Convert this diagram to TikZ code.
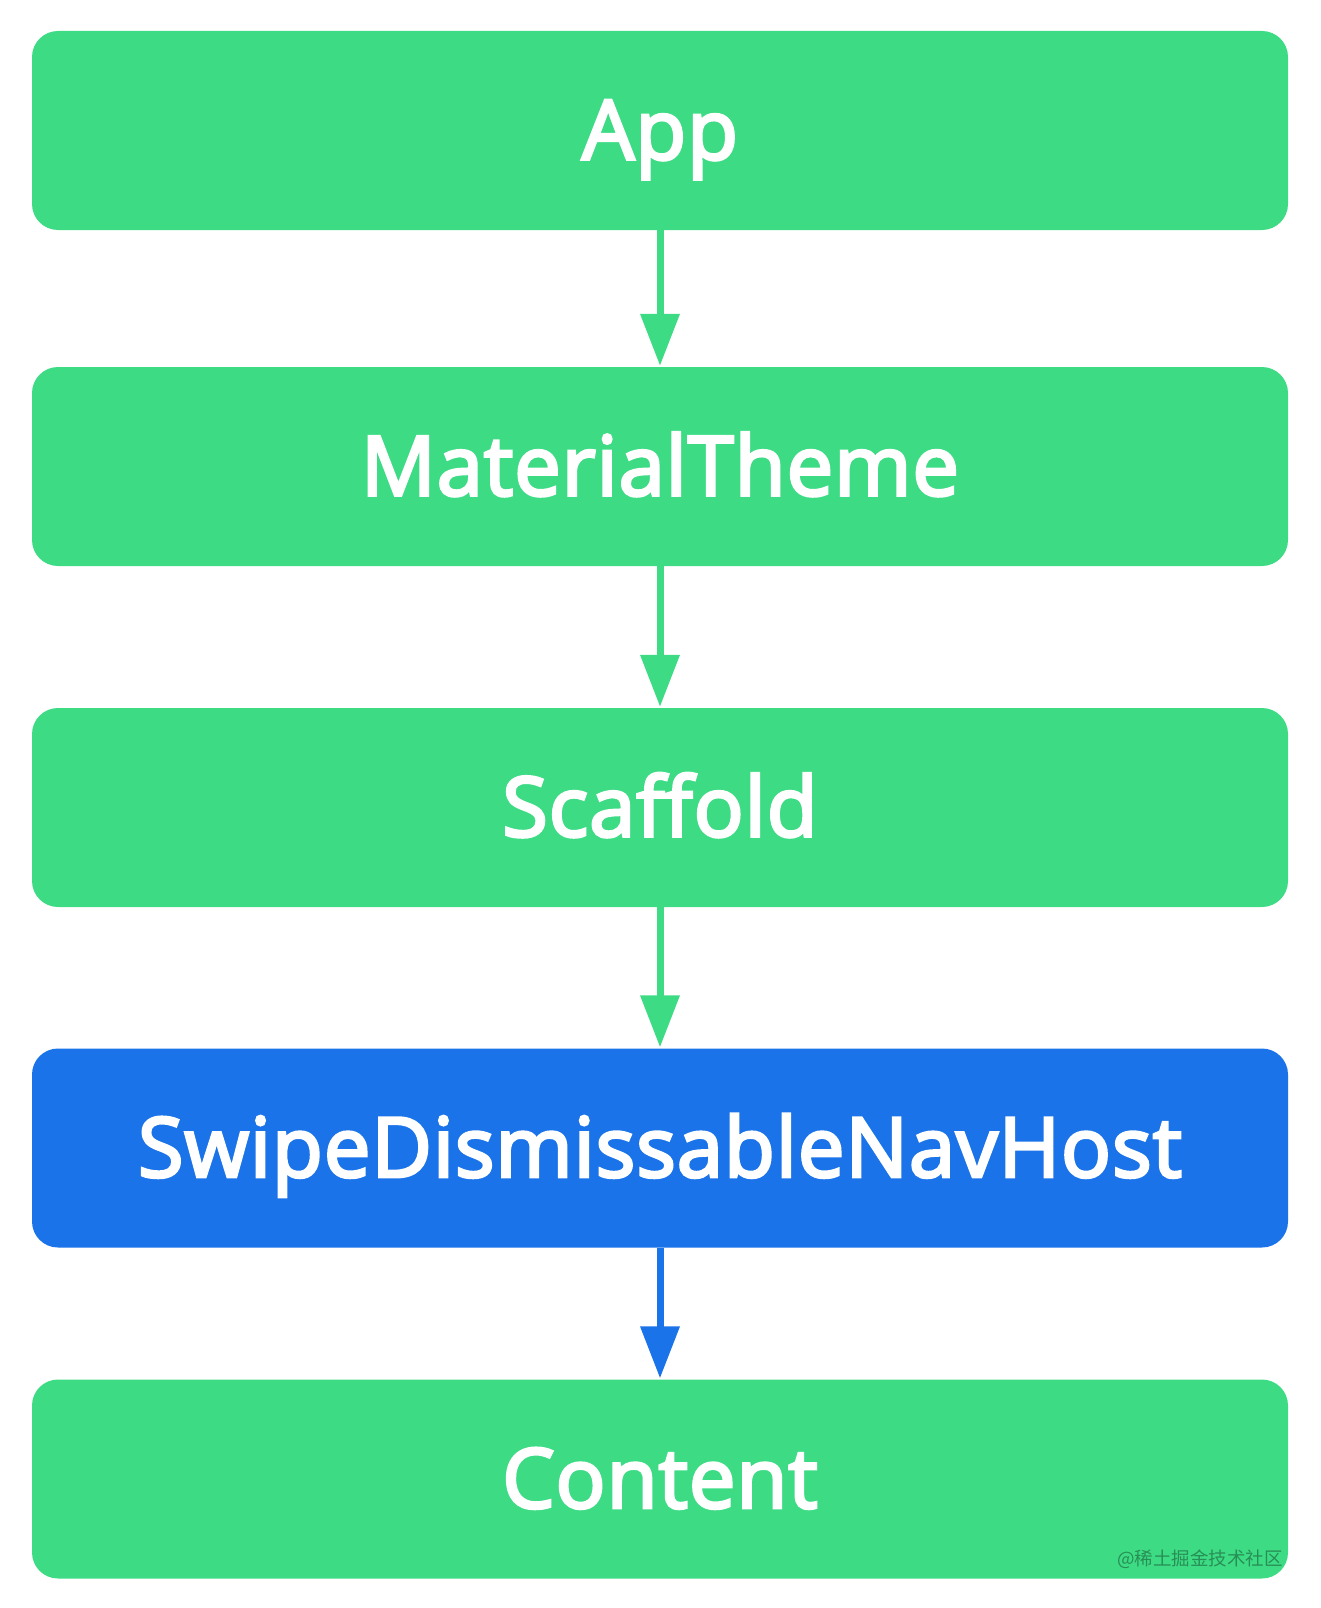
\documentclass[tikz,border=0pt]{standalone}
\usepackage{fontspec}
\setmainfont{Open Sans}
\newfontfamily\labfont{Open Sans}[FakeBold=3.5,LetterSpace=1.2]
\newfontfamily\cjkfont{Noto Sans CJK SC}
\usetikzlibrary{arrows.meta}
\definecolor{andgreen}{HTML}{3DDC84}
\definecolor{andblue}{HTML}{1A73E8}
\tikzset{
  box/.style={rectangle, rounded corners=26pt, minimum width=1256pt, minimum height=199pt,
    inner sep=0pt, text=white, text height=58pt, text depth=0pt,
    font=\labfont\fontsize{83}{90}\selectfont},
  gbox/.style={box, fill=andgreen},
  bbox/.style={box, fill=andblue},
  conn/.style={line width=7pt, -{Triangle[width=38pt,length=52pt]}, shorten >=1pt},
}
\begin{document}
\begin{tikzpicture}[x=1pt,y=-1pt]
\useasboundingbox (0,0) rectangle (1321,1608);
\node[gbox] (app) at (660,130.5) {App};
\node[gbox] (mt) at (660,466.5) {MaterialTheme};
\node[gbox] (sc) at (660,807.5) {Scaffold};
\node[bbox] (sw) at (660,1148) {SwipeDismissableNavHost};
\node[gbox] (ct) at (660,1479) {Content};
\draw[conn, andgreen] (app) -- (mt);
\draw[conn, andgreen] (mt) -- (sc);
\draw[conn, andgreen] (sc) -- (sw);
\draw[conn, andblue] (sw) -- (ct);
\node[anchor=east, inner sep=0pt, text=black, text opacity=0.35, font=\cjkfont\fontsize{18.5}{20}\selectfont] (wm) at (1283,1559) {@稀土掘金技术社区};
\end{tikzpicture}
\end{document}
